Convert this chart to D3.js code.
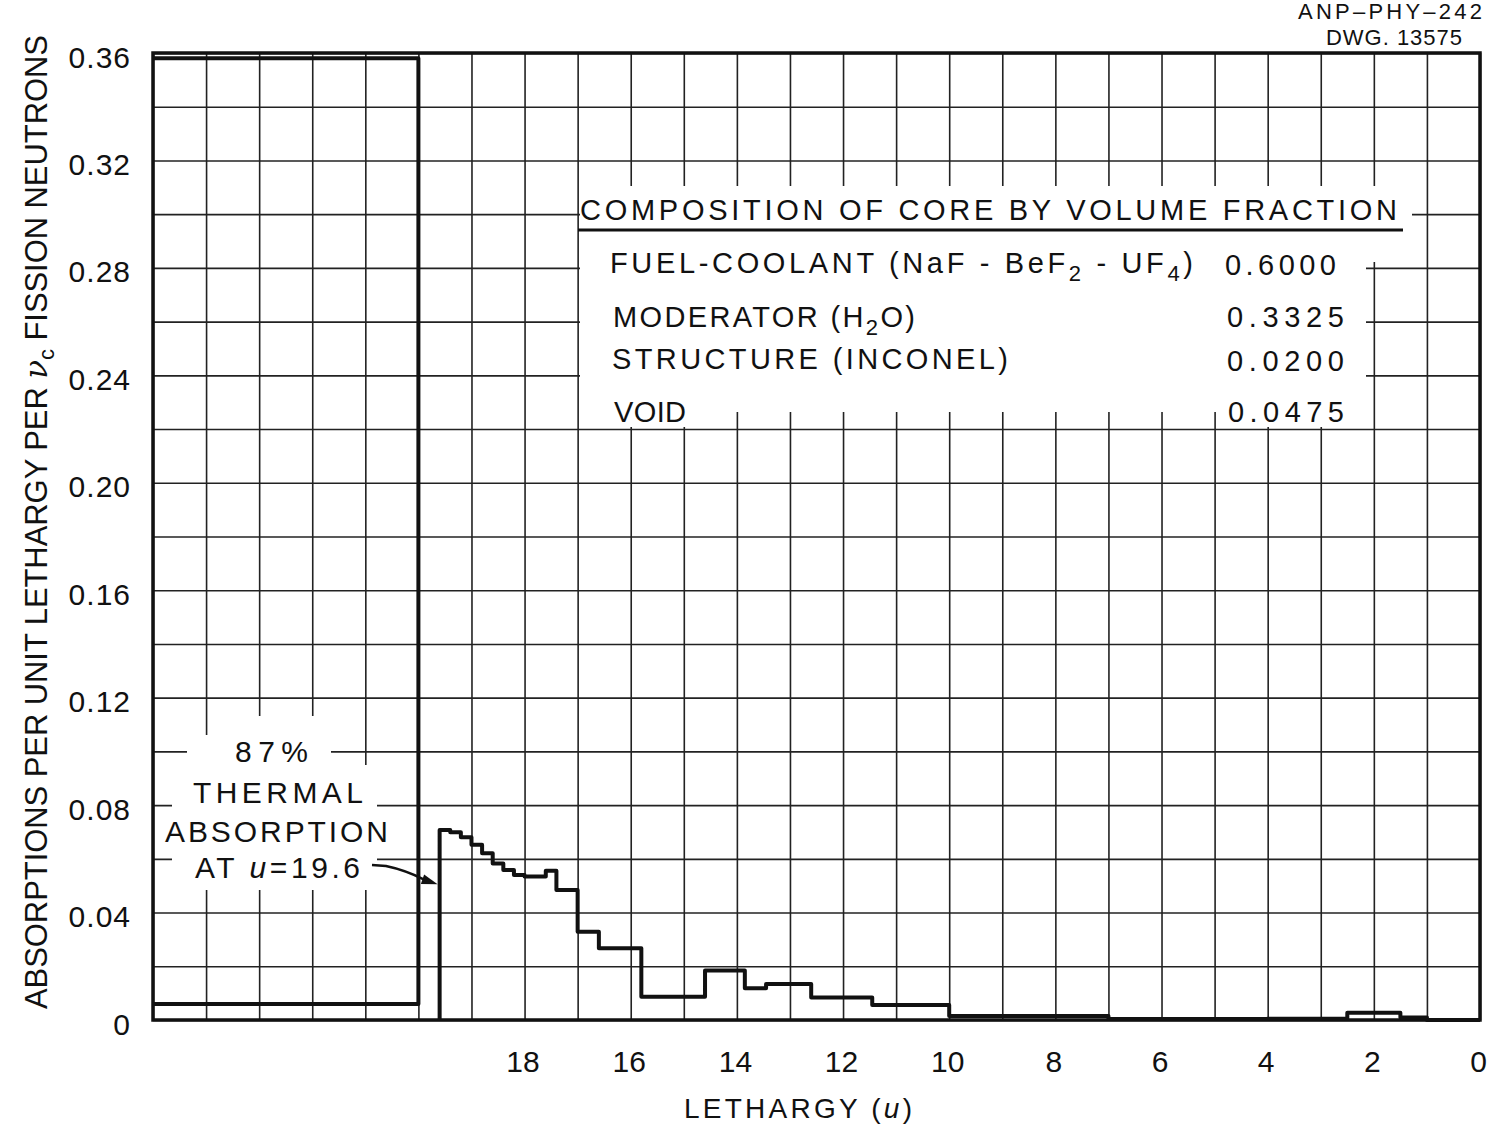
<!DOCTYPE html>
<html><head><meta charset="utf-8">
<script src="https://cdn.jsdelivr.net/npm/d3@7"></script>
<style>
html,body{margin:0;padding:0;background:#fff;}
svg{display:block;}
text{font-family:"Liberation Sans",Arial,sans-serif;fill:#111;}
</style></head><body>
<svg id="chart" width="1496" height="1133"></svg>
<script>
// ---------------- DATA ----------------
const xTickValues = [18, 16, 14, 12, 10, 8, 6, 4, 2, 0];
const yTickValues = [0, 0.04, 0.08, 0.12, 0.16, 0.20, 0.24, 0.28, 0.32, 0.36];
const thermalSpan = [25, 20];
const thermalPeak = 0.358;
const thermalBase = 0.006;
const thermalU = 19.6;
const binEdges = [19.6, 19.4, 19.2, 19.0, 18.8, 18.6, 18.4, 18.2, 18.0, 17.6, 17.4, 17.0, 16.6, 15.8, 14.6, 13.85, 13.45, 12.6, 11.45, 10.0, 7.0, 4.0, 2.5, 1.5, 1.0, 0];
const binValues = [0.0707, 0.0699, 0.0680, 0.0652, 0.0621, 0.0583, 0.0558, 0.0540, 0.0534, 0.0556, 0.0484, 0.0329, 0.0267, 0.0087, 0.0184, 0.0118, 0.0134, 0.0084, 0.0056, 0.0015, 0.0004, 0.0005, 0.0027, 0.0009, 0.0];
const compositionTitle = "COMPOSITION OF CORE BY VOLUME FRACTION";
const compositionFractions = ["0.6000", "0.3325", "0.0200", "0.0475"];
const annotationLines = ["87%", "THERMAL", "ABSORPTION"];
const drawingId = ["ANP\u2013PHY\u2013242", "DWG. 13575"];

// ---------------- SETUP ----------------
const svg = d3.select("#chart");
svg.append("rect").attr("width", 1496).attr("height", 1133).attr("fill", "#fff");
const x = d3.scaleLinear().domain([25, 0]).range([153, 1480]);
const y = d3.scaleLinear().domain([0, 0.36]).range([1020, 53]);
const INK = "#111";

// grid
const gridX = d3.axisBottom(x).tickValues(d3.range(0, 26)).tickSize(-(y(0) - y(0.36))).tickFormat("");
svg.append("g").attr("transform", `translate(0,${y(0)})`).call(gridX)
  .call(g => g.select(".domain").remove())
  .selectAll("line").attr("stroke", "#222").attr("stroke-width", 1.6);
const gridY = d3.axisLeft(y).tickValues(d3.range(0, 19).map(i => +(i * 0.02).toFixed(2))).tickSize(-(x(0) - x(25))).tickFormat("");
svg.append("g").attr("transform", `translate(${x(25)},0)`).call(gridY)
  .call(g => g.select(".domain").remove())
  .selectAll("line").attr("stroke", "#222").attr("stroke-width", 1.6);

// knockouts behind lettering
const knock = [
  [580, 186, 1412, 262], [580, 186, 1366, 412], [580, 186, 700, 427], [1220, 186, 1366, 427],
  [187, 735, 331, 765], [225, 716, 325, 735], [172, 765, 377, 890], [163, 818, 398, 848]
];
svg.append("g").selectAll("rect").data(knock).join("rect")
  .attr("x", d => d[0]).attr("y", d => d[1]).attr("width", d => d[2] - d[0]).attr("height", d => d[3] - d[1])
  .attr("fill", "#fff");

// frame
svg.append("rect").attr("x", x(25)).attr("y", y(0.36)).attr("width", x(0) - x(25)).attr("height", y(0) - y(0.36))
  .attr("fill", "none").attr("stroke", INK).attr("stroke-width", 3.5);

// thermal block
const line = d3.line().x(d => x(d[0])).y(d => y(d[1]));
svg.append("path")
  .attr("d", line([[thermalSpan[0], thermalBase], [thermalSpan[1], thermalBase], [thermalSpan[1], thermalPeak], [thermalSpan[0], thermalPeak]]))
  .attr("fill", "none").attr("stroke", INK).attr("stroke-width", 4).attr("stroke-linejoin", "round");

// epithermal histogram
const pts = [[binEdges[0], 0]];
binValues.forEach((v, i) => { pts.push([binEdges[i], v], [binEdges[i + 1], v]); });
svg.append("path").attr("d", line(pts))
  .attr("fill", "none").attr("stroke", INK).attr("stroke-width", 4).attr("stroke-linejoin", "round");

// axes labels
const xAx = d3.axisBottom(x).tickValues(xTickValues).tickSize(0).tickPadding(31).tickFormat(d3.format("d"));
svg.append("g").attr("transform", `translate(0,${y(0)})`).call(xAx)
  .call(g => g.select(".domain").remove())
  .call(g => g.attr("font-family", null).attr("font-size", null))
  .selectAll("text").attr("font-size", 30).attr("fill", INK).attr("dx", -2);
const yAx = d3.axisLeft(y).tickValues(yTickValues).tickSize(0).tickPadding(22).tickFormat(d => d === 0 ? "0" : d.toFixed(2));
svg.append("g").attr("transform", `translate(${x(25)},0)`).call(yAx)
  .call(g => g.select(".domain").remove())
  .call(g => g.attr("font-family", null).attr("font-size", null))
  .selectAll("text").attr("font-size", 30).attr("fill", INK).attr("dy", "0.47em").attr("letter-spacing", 1);

function txt(parent, s, xx, yy, size, len) {
  const t = parent.append("text").attr("x", xx).attr("y", yy).attr("font-size", size);
  if (s !== null) t.text(s);
  if (len) t.attr("textLength", len).attr("lengthAdjust", "spacing");
  return t;
}

// x title
const xt = txt(svg, null, 684, 1118, 28, 228);
xt.append("tspan").text("LETHARGY (");
xt.append("tspan").text("u").attr("font-style", "italic");
xt.append("tspan").text(")");

// y title
const yt = svg.append("text").attr("transform", "translate(47,522) rotate(-90)").attr("text-anchor", "middle")
  .attr("font-size", 31).attr("textLength", 974).attr("lengthAdjust", "spacing");
yt.append("tspan").text("ABSORPTIONS PER UNIT LETHARGY PER ");
yt.append("tspan").text("\u03BD").attr("font-style", "italic").attr("font-family", "DejaVu Serif");
yt.append("tspan").text("c").attr("font-size", 22).attr("dy", 7);
yt.append("tspan").text(" FISSION NEUTRONS").attr("dy", -7);

// drawing id
txt(svg, drawingId[0], 1298, 19, 22, 184);
txt(svg, drawingId[1], 1326, 45, 22, 136);

// composition table
txt(svg, compositionTitle, 580, 220, 29, 817);
svg.append("line").attr("x1", 578).attr("x2", 1403).attr("y1", 230).attr("y2", 230).attr("stroke", INK).attr("stroke-width", 3);
function sub(t, s) { t.append("tspan").text(s).attr("font-size", 22).attr("dy", 8); }
function unsub(t, s) { t.append("tspan").text(s).attr("dy", -8); }
const r1 = txt(svg, null, 610, 273, 29, 583);
r1.append("tspan").text("FUEL-COOLANT  (NaF - BeF");
sub(r1, "2"); unsub(r1, " - UF"); sub(r1, "4"); unsub(r1, ")");
const r2 = txt(svg, null, 613, 327, 29, 302);
r2.append("tspan").text("MODERATOR (H"); sub(r2, "2"); unsub(r2, "O)");
txt(svg, "STRUCTURE  (INCONEL)", 612, 369, 29, 396);
txt(svg, "VOID", 614, 422, 29, 72);
const fx = [[1225, 275, 111], [1227, 327, 117], [1227, 371, 117], [1228, 422, 116]];
compositionFractions.forEach((f, i) => txt(svg, f, fx[i][0], fx[i][1], 29, fx[i][2]));

// annotation
txt(svg, annotationLines[0], 235, 762, 30, 73);
txt(svg, annotationLines[1], 193, 803, 30, 170);
txt(svg, annotationLines[2], 165, 842, 30, 223);
const at = txt(svg, null, 195, 878, 30, 165);
at.append("tspan").text("AT ");
at.append("tspan").text("u").attr("font-style", "italic");
at.append("tspan").text("=" + thermalU);

// arrow
const tipX = x(thermalU) - 2, tipY = y(0.0505);
svg.append("path").attr("d", `M372,865 L386,866 Q405,870 ${tipX - 14},${tipY - 5}`)
  .attr("fill", "none").attr("stroke", INK).attr("stroke-width", 2.5);
const ang = Math.atan2(14, 41), L = 16, Wd = 5;
const bx = tipX - L * Math.cos(ang), by = tipY - L * Math.sin(ang);
svg.append("path").attr("d", `M${tipX},${tipY} L${bx - Wd * Math.sin(ang)},${by + Wd * Math.cos(ang)} L${bx + Wd * Math.sin(ang)},${by - Wd * Math.cos(ang)} Z`)
  .attr("fill", INK);
</script>
</body></html>
